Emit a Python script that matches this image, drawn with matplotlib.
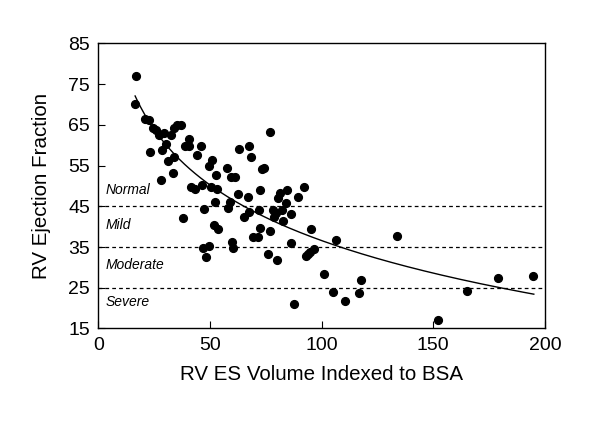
import numpy as np
import matplotlib
matplotlib.use("Agg")
import matplotlib.pyplot as plt

plt.rcParams['font.family'] = ['Liberation Sans', 'DejaVu Sans']

# RV end-systolic volume indexed to BSA vs RV ejection fraction
esvi = np.array([
    17.0, 16.5, 20.7, 22.5, 24.3, 26.0, 27.2, 29.3, 30.3, 28.7,
    23.1, 28.2, 31.3, 32.5, 33.9, 35.1, 37.0, 34.1, 33.4, 37.9,
    38.7, 40.8, 40.6, 41.3, 43.4, 44.1, 46.1, 46.5, 47.5, 47.0,
    48.4, 49.4, 49.4, 50.8, 50.3, 52.2, 52.5, 53.2, 51.8, 53.7,
    57.8, 58.9, 58.3, 59.4, 61.1, 59.9, 60.4, 62.7, 63.2, 65.2,
    67.1, 67.6, 68.3, 67.3, 69.2, 71.4, 71.9, 72.6, 72.6, 73.2,
    74.4, 76.8, 76.8, 76.2, 78.1, 78.7, 79.5, 79.9, 80.4, 81.2,
    82.1, 82.6, 84.0, 84.7, 86.1, 86.1, 87.8, 89.5, 92.1, 92.8,
    94.1, 95.4, 95.0, 96.4, 101.0, 105.3, 106.4, 110.5, 116.9, 117.7,
    133.7, 152.2, 165.2, 179.0, 194.8,
])
rvef = np.array([
    76.9, 70.1, 66.4, 66.2, 64.2, 63.7, 62.5, 63.0, 60.3, 58.9,
    58.4, 51.5, 56.0, 62.5, 64.1, 64.9, 64.9, 57.0, 53.2, 42.0,
    59.8, 61.4, 59.8, 49.8, 49.3, 57.5, 59.8, 50.2, 44.3, 34.8,
    32.6, 35.2, 55.0, 56.4, 49.8, 46.0, 52.7, 49.2, 40.4, 39.3,
    54.3, 46.0, 44.5, 52.1, 52.1, 36.3, 34.8, 48.0, 59.0, 42.3,
    47.2, 59.8, 57.2, 43.5, 37.4, 37.4, 44.0, 39.7, 49.0, 54.1,
    54.3, 63.2, 38.9, 33.2, 44.1, 42.3, 43.3, 31.7, 47.0, 48.2,
    44.0, 41.5, 45.8, 49.0, 43.2, 36.0, 21.1, 47.2, 49.7, 32.9,
    33.4, 39.4, 33.8, 34.4, 28.3, 24.0, 36.8, 21.7, 23.6, 27.0,
    37.6, 17.1, 24.2, 27.4, 27.9,
])

# logarithmic fit: EF = a + b*ln(ESVI)
fit_a = 127.3
fit_b = -19.7
fit_range = (16.5, 195.0)

cutoffs = [45, 35, 25]
grade_labels = ["Normal", "Mild", "Moderate", "Severe"]
grade_y = [48.9, 40.3, 30.5, 21.4]

fig = plt.figure(figsize=(6.00, 4.29), dpi=100)
ax = fig.add_axes([0.1638, 0.2343, 0.7445, 0.6647])

for c in cutoffs:
    ax.axhline(c, color='black', lw=0.9, ls=(0, (3, 2.5)), zorder=1)

xf = np.linspace(fit_range[0], fit_range[1], 300)
ax.plot(xf, fit_a + fit_b * np.log(xf), color='black', lw=1.0, zorder=2)

ax.plot(esvi, rvef, 'o', color='black', markersize=5.6, zorder=3)

for lab, yy in zip(grade_labels, grade_y):
    ax.text(3.4, yy, lab, style='italic', fontsize=10, va='center', ha='left')

ax.set_xlim(0, 200)
ax.set_ylim(15, 85)
ax.set_xticks([0, 50, 100, 150, 200])
ax.set_yticks([15, 25, 35, 45, 55, 65, 75, 85])
ax.tick_params(direction='in', labelsize=14, length=5, width=0.8, pad=6)
ax.set_xlabel("RV ES Volume Indexed to BSA", fontsize=14.8, labelpad=8)
ax.set_ylabel("RV Ejection Fraction", fontsize=14.8, labelpad=12)
for s in ax.spines.values():
    s.set_linewidth(1.0)

fig.savefig("out.png", dpi=100)
